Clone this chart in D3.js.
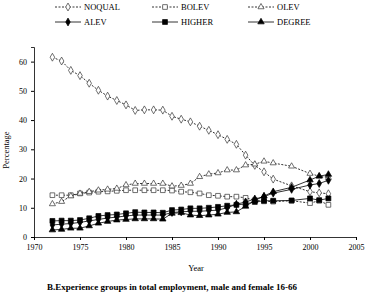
<!DOCTYPE html>
<html>
<head>
<meta charset="utf-8">
<script src="https://cdn.jsdelivr.net/npm/d3@7"></script>
<style>
body{margin:0;background:#fff;}
text{font-family:"Liberation Serif","Times New Roman",serif;fill:#000;}
</style>
</head>
<body>
<svg id="graph" width="365" height="293"></svg>
<script>
// années et séries
var years = [1972,1973,1974,1975,1976,1977,1978,1979,1980,1981,1982,1983,1984,1985,1986,1987,1988,1989,1990,1991,1992,1993,1994,1995,1996,1998,2000,2001,2002];
var noqual = [61.5,60.2,57,55.2,52.6,50.2,48.2,46.7,45.2,43.3,43.5,43.5,43.4,41.3,40.3,39.4,37.9,36.5,35,33.4,31.7,28,24.5,22.3,19.8,17.5,15.5,15.1,14.8];
var bolev = [14.3,14.3,14.3,14.9,15.2,15.5,15.6,15.8,16,16,16,16,16,15.9,15.5,15.3,14.9,14.3,14.1,13.8,13.8,13.4,12.6,12.2,12.1,12.4,11.6,12.4,11];
var olev = [11.3,12.1,14,14.9,15.5,16,16.3,16.6,17.8,18.3,18.3,18.3,18.3,17.4,17.6,18.3,20.6,21.5,21.9,22.9,22.9,24.6,24.9,25.9,25.3,24.2,21.7,20.8,20.3];
var alev = [4.1,4.4,4.6,5,5.5,6,6.5,6.8,7.2,7.5,7.5,7.5,7.5,8.4,8.6,8.8,8.8,9,9.2,10,11.2,12,13,13.8,15,16.3,17.8,18.3,19.4];
var higher = [5.5,5.6,5.6,5.8,6.4,7.2,7.5,7.7,8.1,8.5,8.4,8.4,8.3,9.2,9.4,9.8,9.8,10,10.3,10.7,11,11.3,12,12.4,12.4,12.5,13.2,12.6,13.2];
var degree = [2.4,2.6,3,3,3.8,4.7,5.3,5.8,6,6.2,6.2,6.2,6.1,8.1,8.3,7.5,7.3,7.5,7.8,8.4,8.6,10.5,12.5,14,15.5,17,19.5,20.8,21.4];
var xTicks = [1970,1975,1980,1985,1990,1995,2000,2005];
var yTicks = [0,10,20,30,40,50,60];

// style de chaque série
var series = [
	{nom:"NOQUAL", val:noqual, dash:"2,1.5", sym:d3.symbolDiamond, size:18, fill:"#fff"},
	{nom:"BOLEV",  val:bolev,  dash:"2,1.5", sym:d3.symbolSquare,  size:22, fill:"#fff"},
	{nom:"OLEV",   val:olev,   dash:"2,1.5", sym:d3.symbolTriangle,size:16, fill:"#fff"},
	{nom:"ALEV",   val:alev,   dash:null,    sym:d3.symbolDiamond, size:18, fill:"#000"},
	{nom:"HIGHER", val:higher, dash:null,    sym:d3.symbolSquare,  size:24, fill:"#000"},
	{nom:"DEGREE", val:degree, dash:null,    sym:d3.symbolTriangle,size:18, fill:"#000"}
];

var svg = d3.select("#graph");

var scaleX = d3.scaleLinear().domain([1970,2005]).range([34,356]);
var scaleY = d3.scaleLinear().domain([0,65]).range([237,47]);

// Axe X
var gx = svg.append("g").attr("transform","translate(0,237)")
	.call(d3.axisBottom(scaleX).tickValues(xTicks).tickFormat(d3.format("d")).tickSize(3).tickPadding(4));
gx.selectAll("text").attr("font-size",8).attr("font-family","Liberation Serif");
gx.select(".domain").attr("stroke","#000").attr("stroke-width",0.8);

// Axe Y
var gy = svg.append("g").attr("transform","translate(34,0)")
	.call(d3.axisLeft(scaleY).tickValues(yTicks).tickSize(3).tickPadding(4));
gy.selectAll("text").attr("font-size",8).attr("font-family","Liberation Serif");
gy.select(".domain").attr("stroke","#000").attr("stroke-width",0.8);

// titres des axes
svg.append("text").attr("x",196).attr("y",271).attr("font-size",8.5).attr("text-anchor","middle").text("Year");
svg.append("text").attr("transform","translate(9,150) rotate(-90)").attr("font-size",8.5).attr("text-anchor","middle").text("Percentage");
svg.append("text").attr("x",172).attr("y",290).attr("font-size",9).attr("font-weight","bold").attr("text-anchor","middle")
	.text("B.Experience groups in total employment, male and female 16-66");

// courbes + points
var line = d3.line().x(function(d,i){ return scaleX(years[i]); }).y(function(d){ return scaleY(d); });
series.forEach(function(s){
	svg.append("path").attr("d",line(s.val)).attr("fill","none").attr("stroke","#000")
		.attr("stroke-width",0.8).attr("stroke-dasharray",s.dash);
	svg.append("g").selectAll("path").data(s.val).enter().append("path")
		.attr("d",d3.symbol().type(s.sym).size(s.size))
		.attr("transform",function(d,i){ return "translate("+scaleX(years[i])+","+scaleY(d)+")"; })
		.attr("fill",s.fill).attr("stroke",s.fill=="#fff" ? "#333" : "#000").attr("stroke-width",0.7);
});

// légende
var legX = [55,152,248];
var legY = [7,22];
series.forEach(function(s,k){
	var x = legX[k%3], y = legY[Math.floor(k/3)];
	var g = svg.append("g").attr("transform","translate("+x+","+y+")");
	g.append("line").attr("x1",0).attr("x2",26).attr("y1",0).attr("y2",0).attr("stroke","#000")
		.attr("stroke-width",0.8).attr("stroke-dasharray",s.dash);
	g.append("path").attr("d",d3.symbol().type(s.sym).size(s.size)).attr("transform","translate(13,0)")
		.attr("fill",s.fill).attr("stroke",s.fill=="#fff" ? "#333" : "#000").attr("stroke-width",0.7);
	g.append("text").attr("x",29).attr("y",3).attr("font-size",8.5).text(s.nom);
});
</script>
</body>
</html>
